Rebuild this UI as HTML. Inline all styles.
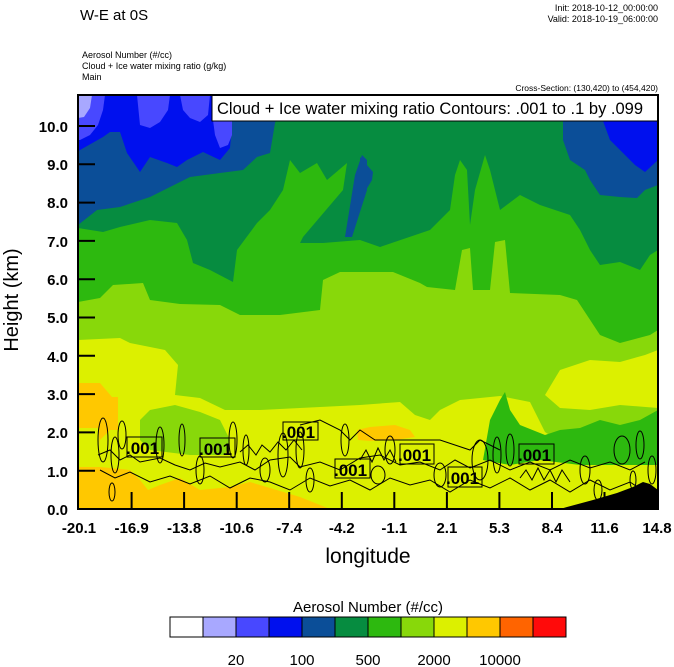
<!DOCTYPE html>
<html><head><meta charset="utf-8"><style>
html,body{margin:0;padding:0;background:#fff;}
svg{display:block;font-family:"Liberation Sans",sans-serif;}
</style></head><body>
<svg width="674" height="667" viewBox="0 0 674 667" xmlns="http://www.w3.org/2000/svg">
<rect width="674" height="667" fill="#fff"/>
<text x="80" y="20" font-size="15">W-E at 0S</text>
<text x="658" y="11" font-size="9" text-anchor="end">Init: 2018-10-12_00:00:00</text>
<text x="658" y="22" font-size="9" text-anchor="end">Valid: 2018-10-19_06:00:00</text>
<text x="82" y="58" font-size="9">Aerosol Number   (#/cc)</text>
<text x="82" y="69" font-size="9">Cloud + Ice water mixing ratio   (g/kg)</text>
<text x="82" y="80" font-size="9">Main</text>
<text x="658" y="91" font-size="8.5" text-anchor="end">Cross-Section: (130,420) to (454,420)</text>

<defs><clipPath id="pc"><rect x="78" y="95" width="580" height="414"/></clipPath></defs>
<g clip-path="url(#pc)">
<rect x="78" y="95" width="580" height="414" fill="#DCF000"/>
<polygon fill="#88D80A" points="78,95 658,95 658,420 640,425 600,432 560,442 545,432 530,402 500,396 460,400 440,410 430,420 415,415 400,402 360,405 300,408 260,410 225,410 200,398 175,395 178,365 165,350 130,343 120,338 78,340"/>
<polygon fill="#DCF000" points="545,395 560,370 590,360 620,362 645,355 658,350 658,408 620,405 590,410 560,408"/>
<polygon fill="#88D80A" points="140,420 150,410 175,405 200,412 220,420 230,440 225,455 190,455 150,450 140,440"/>
<polygon fill="#2DB90F" points="483,460 490,420 500,400 505,392 510,410 520,425 545,435 560,430 580,428 600,420 620,425 640,420 658,410 658,465 620,465 580,465 540,460 510,465"/>
<polygon fill="#2DB90F" points="78,95 658,95 658,330 650,335 620,343 600,335 577,300 560,295 510,293 505,240 495,242 490,290 473,290 470,248 462,250 455,290 427,287 420,283 393,272 340,272 323,280 320,310 280,315 240,315 220,305 180,304 150,300 143,283 113,285 100,298 78,302"/>
<polygon fill="#068C40" points="78,95 658,95 658,250 650,255 640,270 620,262 600,265 590,250 580,230 570,215 540,205 520,195 500,210 490,170 485,155 475,190 470,225 467,170 460,160 455,175 450,210 430,230 380,247 360,240 323,243 300,243 303,237 343,190 347,163 327,180 317,163 300,173 290,160 283,190 270,210 257,223 237,250 233,282 210,270 193,263 187,240 177,223 150,220 120,227 103,232 78,228"/>
<polygon fill="#0B4E98" points="78,95 283,95 280,112 277,118 275,123 270,153 257,157 243,170 220,173 190,177 170,187 150,197 120,207 97,210 78,225"/>
<polygon fill="#0B4E98" points="563,121 658,121 658,185 645,190 637,198 620,197 600,195 590,180 585,170 570,160 563,140"/>
<polygon fill="#0B4E98" points="345,237 352,237 367,190 367,160 362,155 355,175"/>
<polygon fill="#0B4E98" points="360,157 373,172 372,180 360,200"/>
<polygon fill="#0010EE" points="78,95 235,95 232,122 230,148 220,160 203,152 187,160 177,167 167,163 150,157 140,172 127,153 120,132 110,132 103,137 80,150 78,152"/>
<polygon fill="#0010EE" points="603,121 658,121 658,160 645,172 635,165 620,150 610,140"/>
<polygon fill="#4848FF" points="78,95 105,95 103,110 98,125 90,135 80,140 78,140"/>
<polygon fill="#4848FF" points="137,95 170,95 168,110 160,122 150,128 140,125"/>
<polygon fill="#4848FF" points="180,95 210,95 208,115 200,122 190,118 183,110"/>
<polygon fill="#4848FF" points="213,120 232,115 232,135 228,145 220,148 215,135"/>
<polygon fill="#A8A8FF" points="78,95 92,95 90,108 84,117 78,118"/>
<polygon fill="#FFC800" points="78,383 100,383 112,397 118,397 118,430 110,430 100,440 100,467 130,470 140,480 148,490 160,485 180,478 200,490 230,487 250,482 270,488 300,497 320,505 330,509 78,509"/>
<polygon fill="#DCF000" points="78,428 98,428 100,445 100,467 78,467"/>
<polygon fill="#FFC800" points="357,430 370,427 395,425 410,430 415,437 395,440 370,441 358,440"/>
<polygon fill="#000" points="560,509 567,507 593,500 617,493 633,487 643,482 650,484 658,490 658,509"/>
<g fill="none" stroke="#000" stroke-width="1">
<polyline points="98,455 110,450 120,460 130,455 140,462 160,458 175,465 190,470 205,463 220,467 240,462 255,470 270,460 290,457 300,467 320,462 340,470 360,458 380,455 400,465 420,462 440,470 455,460 470,468 490,460 510,470 530,462 550,470 570,460 590,468 610,462 630,470 645,462"/>
<polyline points="100,470 115,478 130,472 150,482 170,476 190,484 210,476 230,488 250,478 270,482 290,490 310,478 330,486 350,480 370,490 390,478 410,485 430,480 450,492 470,480 490,488 510,478 530,490 550,480 570,492 590,480 610,490 630,482 645,492"/>
<polyline points="240,452 248,445 256,455 262,445 270,452 278,442 286,450 294,440 302,450"/>
<polyline points="360,460 366,450 372,462 378,448 384,460 390,450 396,462"/>
<polyline points="520,478 526,470 532,480 538,468 544,480 550,470 556,482 562,470 570,482"/>
<ellipse cx="103" cy="440" rx="5" ry="22"/><ellipse cx="115" cy="455" rx="4" ry="18"/>
<ellipse cx="112" cy="492" rx="3" ry="9"/><ellipse cx="122" cy="435" rx="4" ry="14"/>
<ellipse cx="160" cy="445" rx="4" ry="18"/><ellipse cx="182" cy="440" rx="3" ry="16"/>
<ellipse cx="200" cy="470" rx="4" ry="14"/><ellipse cx="233" cy="440" rx="4" ry="18"/>
<ellipse cx="246" cy="450" rx="3" ry="15"/><ellipse cx="265" cy="470" rx="5" ry="12"/>
<ellipse cx="283" cy="455" rx="5" ry="22"/><ellipse cx="300" cy="450" rx="4" ry="18"/>
<ellipse cx="310" cy="480" rx="4" ry="12"/><ellipse cx="345" cy="440" rx="4" ry="16"/>
<ellipse cx="378" cy="475" rx="7" ry="9"/><ellipse cx="390" cy="450" rx="5" ry="14"/>
<ellipse cx="440" cy="475" rx="6" ry="12"/><ellipse cx="480" cy="460" rx="8" ry="20"/>
<ellipse cx="497" cy="455" rx="4" ry="18"/><ellipse cx="510" cy="450" rx="4" ry="16"/>
<ellipse cx="585" cy="470" rx="5" ry="14"/><ellipse cx="598" cy="490" rx="4" ry="10"/>
<ellipse cx="622" cy="450" rx="8" ry="14"/><ellipse cx="640" cy="445" rx="4" ry="14"/>
<ellipse cx="652" cy="470" rx="4" ry="14"/><ellipse cx="633" cy="480" rx="3" ry="9"/>
<polyline points="300,425 320,420 340,430 350,440 360,430 375,440 395,440 440,440 470,450 480,440 500,450"/>
</g>
<g font-size="17" font-weight="bold">
<rect x="127" y="437" width="35" height="20" fill="none" stroke="#000"/><text x="126" y="454">.001</text>
<rect x="200" y="438" width="35" height="19" fill="none" stroke="#000"/><text x="199" y="455">.001</text>
<rect x="283" y="422" width="35" height="18" fill="none" stroke="#000"/><text x="282" y="438">.001</text>
<rect x="335" y="459" width="35" height="19" fill="none" stroke="#000"/><text x="334" y="476">.001</text>
<rect x="400" y="444" width="34" height="20" fill="none" stroke="#000"/><text x="398" y="461">.001</text>
<rect x="448" y="467" width="34" height="20" fill="none" stroke="#000"/><text x="446" y="484">.001</text>
<rect x="519" y="444" width="35" height="20" fill="none" stroke="#000"/><text x="518" y="461">.001</text>
</g>
</g>
<rect x="212" y="95" width="446" height="26" fill="#fff" stroke="#000" stroke-width="1"/>
<text x="217" y="114" font-size="16.5">Cloud + Ice water mixing ratio Contours: .001 to .1 by .099</text>
<rect x="78" y="95" width="580" height="414" fill="none" stroke="#000" stroke-width="2"/>
<g stroke="#000" stroke-width="2">
<line x1="78" y1="126" x2="95" y2="126"/><line x1="78" y1="164.3" x2="95" y2="164.3"/>
<line x1="78" y1="202.6" x2="95" y2="202.6"/><line x1="78" y1="240.9" x2="95" y2="240.9"/>
<line x1="78" y1="279.2" x2="95" y2="279.2"/><line x1="78" y1="317.5" x2="95" y2="317.5"/>
<line x1="78" y1="355.8" x2="95" y2="355.8"/><line x1="78" y1="394.1" x2="95" y2="394.1"/>
<line x1="78" y1="432.4" x2="95" y2="432.4"/><line x1="78" y1="470.7" x2="95" y2="470.7"/>
<line x1="131.6" y1="509" x2="131.6" y2="492"/><line x1="184.1" y1="509" x2="184.1" y2="492"/>
<line x1="236.7" y1="509" x2="236.7" y2="492"/><line x1="289.2" y1="509" x2="289.2" y2="492"/>
<line x1="341.8" y1="509" x2="341.8" y2="492"/><line x1="394.3" y1="509" x2="394.3" y2="492"/>
<line x1="446.9" y1="509" x2="446.9" y2="492"/><line x1="499.4" y1="509" x2="499.4" y2="492"/>
<line x1="552" y1="509" x2="552" y2="492"/><line x1="604.5" y1="509" x2="604.5" y2="492"/>
</g>
<g font-size="15" font-weight="bold" text-anchor="end">
<text x="68" y="132">10.0</text><text x="68" y="170">9.0</text><text x="68" y="208">8.0</text>
<text x="68" y="247">7.0</text><text x="68" y="285">6.0</text><text x="68" y="323">5.0</text>
<text x="68" y="362">4.0</text><text x="68" y="400">3.0</text><text x="68" y="438">2.0</text>
<text x="68" y="477">1.0</text><text x="68" y="515">0.0</text>
</g>
<g font-size="15" font-weight="bold" text-anchor="middle">
<text x="79" y="533">-20.1</text><text x="131.6" y="533">-16.9</text><text x="184.1" y="533">-13.8</text>
<text x="236.7" y="533">-10.6</text><text x="289.2" y="533">-7.4</text><text x="341.8" y="533">-4.2</text>
<text x="394.3" y="533">-1.1</text><text x="446.9" y="533">2.1</text><text x="499.4" y="533">5.3</text>
<text x="552" y="533">8.4</text><text x="604.5" y="533">11.6</text><text x="657" y="533">14.8</text>
</g>
<text x="368" y="563" font-size="21" text-anchor="middle">longitude</text>
<text transform="translate(18,300) rotate(-90)" font-size="20" text-anchor="middle">Height (km)</text>
<text x="368" y="612" font-size="15" text-anchor="middle">Aerosol Number  (#/cc)</text>
<g stroke="#000" stroke-width="1">
<rect x="170" y="617" width="33" height="20" fill="#FFFFFF"/>
<rect x="203" y="617" width="33" height="20" fill="#A8A8FF"/>
<rect x="236" y="617" width="33" height="20" fill="#4848FF"/>
<rect x="269" y="617" width="33" height="20" fill="#0010EE"/>
<rect x="302" y="617" width="33" height="20" fill="#0B4E98"/>
<rect x="335" y="617" width="33" height="20" fill="#068C40"/>
<rect x="368" y="617" width="33" height="20" fill="#2DB90F"/>
<rect x="401" y="617" width="33" height="20" fill="#88D80A"/>
<rect x="434" y="617" width="33" height="20" fill="#DCF000"/>
<rect x="467" y="617" width="33" height="20" fill="#FFC800"/>
<rect x="500" y="617" width="33" height="20" fill="#FF6400"/>
<rect x="533" y="617" width="33" height="20" fill="#FF0A0A"/>
</g>
<g font-size="15" text-anchor="middle">
<text x="236" y="665">20</text><text x="302" y="665">100</text><text x="368" y="665">500</text>
<text x="434" y="665">2000</text><text x="500" y="665">10000</text>
</g>
</svg>
</body></html>
